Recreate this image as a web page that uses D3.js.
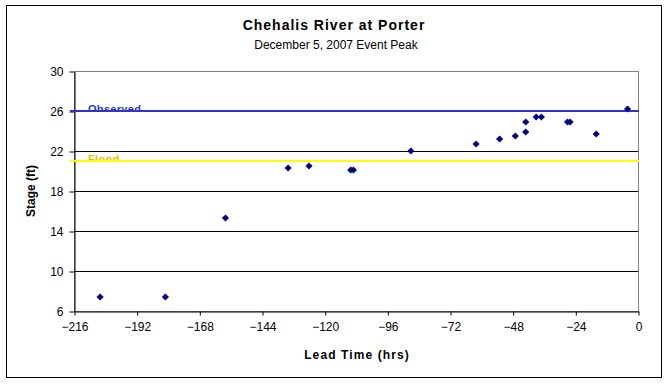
<!DOCTYPE html>
<html>
<head>
<meta charset="utf-8">
<script src="https://cdn.jsdelivr.net/npm/d3@7"></script>
<style>
  body { margin: 0; background: #fff; }
  svg { display: block; font-family: Arial, "Liberation Sans", sans-serif; }
</style>
</head>
<body>
<svg id="chart" width="672" height="384"></svg>
<script>
// Lead time (hrs) vs forecast stage (ft)
const leadHours = [-206, -181, -158, -134, -126, -110, -109, -87, -62, -53, -47, -43, -43, -39, -37, -27, -26, -16, -4];
const stageFt   = [7.4, 7.4, 15.3, 20.3, 20.5, 20.1, 20.1, 22.0, 22.7, 23.2, 23.5, 23.9, 24.9, 25.4, 25.4, 24.9, 24.9, 23.7, 26.2];
const xTicks = [-216, -192, -168, -144, -120, -96, -72, -48, -24, 0];
const yTicks = [6, 10, 14, 18, 22, 26, 30];
const refLines = [
  { label: 'Observed', value: 26, line: '#3333CC', text: '#1F3FBF' },
  { label: 'Flood',    value: 21, line: '#FFFF00', text: '#F0C000' }
];

const svg = d3.select('#chart');
const plot = { left: 74, right: 638, top: 71, bottom: 311 };

const x = d3.scaleLinear().domain([-216, 0]).range([plot.left, plot.right]);
const y = d3.scaleLinear().domain([6, 30]).range([plot.bottom, plot.top]);

// ── Outer frame ───────────────────────────────────────────────
svg.append('rect')
  .attr('x', 6.5).attr('y', 5.5).attr('width', 655).attr('height', 372)
  .attr('fill', '#fff').attr('stroke', '#000').attr('stroke-width', 1);

// ── Titles ────────────────────────────────────────────────────
svg.append('text').attr('x', 334).attr('y', 30).attr('text-anchor', 'middle')
  .attr('font-size', 14).attr('font-weight', 'bold').attr('letter-spacing', 1)
  .text('Chehalis River at Porter');
svg.append('text').attr('x', 336).attr('y', 49).attr('text-anchor', 'middle')
  .attr('font-size', 12).text('December 5, 2007 Event Peak');

// ── Plot frame + gridlines ───────────────────────────────────
svg.append('rect')
  .attr('x', plot.left + 0.5).attr('y', plot.top + 0.5)
  .attr('width', plot.right - plot.left).attr('height', plot.bottom - plot.top)
  .attr('fill', 'none').attr('stroke', '#808080');

svg.append('g').selectAll('line')
  .data(yTicks.filter(d => d > 6 && d < 30)).join('line')
  .attr('x1', plot.left).attr('x2', plot.right)
  .attr('y1', d => Math.round(y(d)) + 0.5).attr('y2', d => Math.round(y(d)) + 0.5)
  .attr('stroke', '#000');

// ── Axes ──────────────────────────────────────────────────────
const yAxis = svg.append('g').attr('transform', `translate(${plot.left + 0.5},0.5)`)
  .call(d3.axisLeft(y).tickValues(yTicks).tickSize(5).tickPadding(6).tickSizeOuter(0));
const xAxis = svg.append('g').attr('transform', `translate(0.5,${plot.bottom + 0.5})`)
  .call(d3.axisBottom(x).tickValues(xTicks).tickSize(4).tickPadding(7).tickSizeOuter(0));
[yAxis, xAxis].forEach(g => {
  g.select('.domain').attr('stroke', '#000');
  g.selectAll('.tick line').attr('stroke', '#000');
  g.selectAll('.tick text').attr('font-size', 12).attr('fill', '#000')
    .attr('font-family', 'Arial, "Liberation Sans", sans-serif');
});

svg.append('text').attr('x', 357).attr('y', 359).attr('text-anchor', 'middle')
  .attr('font-size', 12).attr('font-weight', 'bold').attr('letter-spacing', 1.1)
  .text('Lead Time (hrs)');
svg.append('text').attr('transform', 'translate(35,191) rotate(-90)').attr('text-anchor', 'middle')
  .attr('font-size', 12).attr('font-weight', 'bold')
  .text('Stage (ft)');

// ── Reference lines (label clipped above the line) ───────────
const defs = svg.append('defs');
refLines.forEach((r, i) => {
  const ly = y(r.value);
  defs.append('clipPath').attr('id', `clip-${i}`)
    .append('rect').attr('x', plot.left).attr('y', ly - 20).attr('width', 200).attr('height', 20);
  svg.append('text')
    .attr('x', 88).attr('y', ly + 2)
    .attr('clip-path', `url(#clip-${i})`)
    .attr('font-size', 11).attr('font-weight', 'bold').attr('letter-spacing', 0.3)
    .attr('fill', r.text).text(r.label);
  svg.append('line')
    .attr('x1', plot.left - 4).attr('x2', plot.right + 1)
    .attr('y1', ly).attr('y2', ly)
    .attr('stroke', r.line).attr('stroke-width', 2);
});

// ── Points (Excel-style square diamonds) ─────────────────────
const diamond = d3.symbol().type({
  draw(ctx) {
    const r = 3.6;
    ctx.moveTo(0, -r); ctx.lineTo(r, 0); ctx.lineTo(0, r); ctx.lineTo(-r, 0); ctx.closePath();
  }
});
svg.append('g').selectAll('path')
  .data(leadHours.map((h, i) => ({ h, s: stageFt[i] }))).join('path')
  .attr('transform', d => `translate(${x(d.h)},${y(d.s)})`)
  .attr('d', diamond)
  .attr('fill', '#000080');
</script>
</body>
</html>
